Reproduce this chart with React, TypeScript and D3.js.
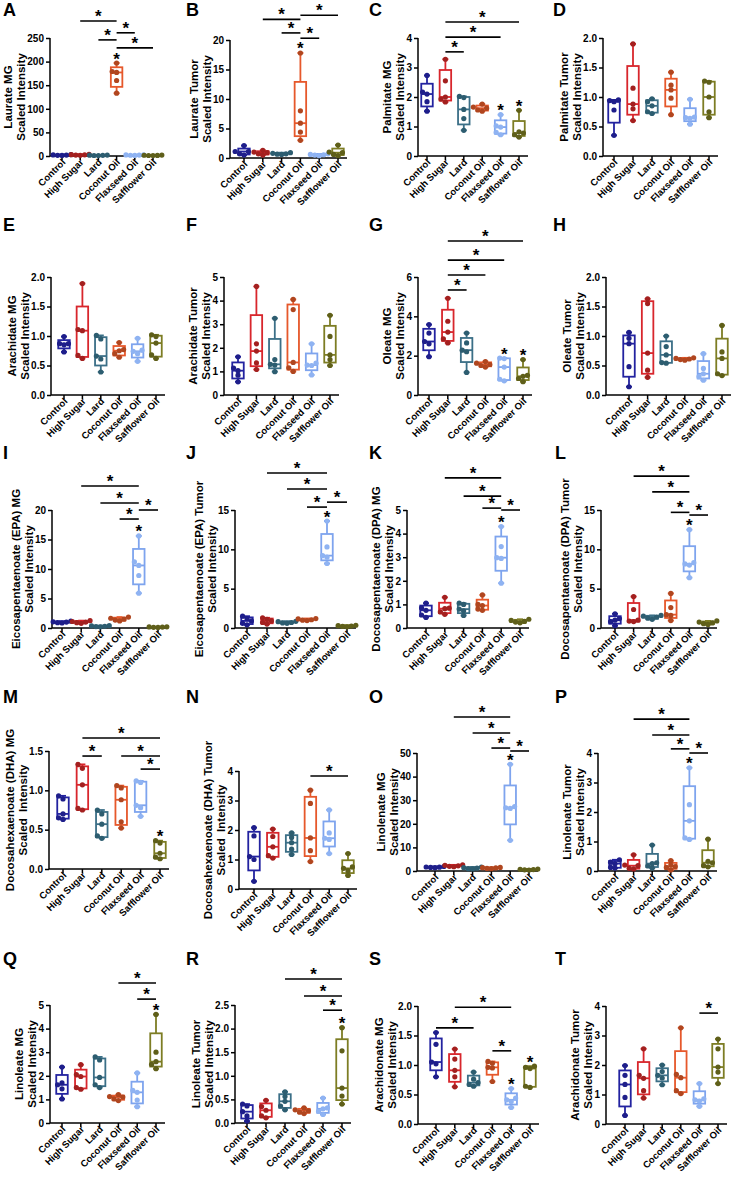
import * as d3 from "d3";
import { useRef, useEffect } from "react";

const FONT = "Liberation Sans, Arial, Helvetica, sans-serif";
const W = 736;
const H = 1177;
const PLOT_H = 118;

const groups = ["Control", "High Sugar", "Lard", "Coconut Oil", "Flaxseed Oil", "Safflower Oil"];
const boxColors = ["#2323a0", "#d8262c", "#3b6f87", "#e6582b", "#7ea4ee", "#7d7d24"];
const dotColors = ["#1e1e8a", "#a3201f", "#2d5d70", "#b0461f", "#8fb3f2", "#5f5f1a"];

// five animals per group
const laurateMG = [
  [1.2, 1.5, 1.9, 2.3, 3.0], [1.5, 2.0, 2.4, 2.8, 3.3], [0.9, 1.1, 1.4, 1.7, 2.0],
  [133, 160, 177, 179, 197], [1.3, 1.6, 1.9, 2.2, 2.6], [0.9, 1.1, 1.3, 1.6, 1.9],
];
const laurateTumor = [
  [0.5, 0.7, 1.1, 1.1, 2.1], [0.5, 0.7, 0.9, 1.0, 1.3], [0.6, 0.65, 0.7, 0.8, 0.9],
  [3.0, 4.4, 5.9, 8.0, 17.8], [0.4, 0.5, 0.55, 0.6, 0.7], [0.4, 0.6, 0.9, 1.0, 2.2],
];
const palmitateMG = [
  [1.52, 1.84, 2.1, 2.17, 2.73], [1.83, 1.93, 2.0, 2.55, 3.28], [0.87, 1.27, 1.58, 1.98, 2.02],
  [1.52, 1.56, 1.62, 1.66, 1.76], [0.72, 0.8, 0.98, 1.02, 1.4], [0.64, 0.72, 0.78, 0.82, 1.55],
];
const palmitateTumor = [
  [0.35, 0.78, 0.92, 0.94, 0.95], [0.6, 0.8, 0.88, 1.15, 1.9], [0.72, 0.75, 0.85, 0.92, 0.97],
  [0.7, 0.98, 1.12, 1.2, 1.42], [0.54, 0.64, 0.65, 0.66, 0.96], [0.65, 0.75, 1.0, 1.25, 1.27],
];
const arachidateMG = [
  [0.73, 0.85, 0.87, 0.87, 0.99], [0.62, 0.67, 1.09, 1.11, 1.89], [0.39, 0.61, 0.66, 0.95, 1.01],
  [0.64, 0.7, 0.75, 0.77, 0.89], [0.57, 0.7, 0.74, 0.76, 0.96], [0.62, 0.68, 0.88, 0.99, 1.02],
];
const arachidateTumor = [
  [0.56, 0.84, 1.03, 1.14, 1.62], [1.08, 1.36, 1.86, 2.17, 4.6], [0.99, 1.27, 1.3, 1.5, 3.25],
  [1.0, 1.15, 1.38, 3.62, 4.05], [0.85, 1.25, 1.27, 1.35, 2.17], [1.25, 1.5, 1.7, 2.48, 3.38],
];
const oleateMG = [
  [1.95, 2.6, 2.72, 3.15, 3.58], [2.65, 2.85, 3.2, 3.75, 4.92], [1.15, 2.2, 2.28, 2.65, 3.15],
  [1.42, 1.5, 1.55, 1.62, 1.7], [0.72, 0.8, 1.42, 1.85, 1.88], [0.68, 0.84, 0.95, 1.0, 1.8],
];
const oleateTumor = [
  [0.14, 0.48, 0.87, 0.96, 1.06], [0.3, 0.42, 0.71, 1.55, 1.63], [0.54, 0.55, 0.68, 0.82, 1.0],
  [0.59, 0.6, 0.61, 0.62, 0.63], [0.25, 0.31, 0.36, 0.45, 0.7], [0.33, 0.36, 0.62, 0.73, 1.18],
];
const epaMG = [
  [0.85, 0.9, 1.0, 1.05, 1.15], [0.8, 0.9, 1.0, 1.1, 1.25], [0.2, 0.25, 0.3, 0.35, 0.4],
  [1.2, 1.35, 1.5, 1.65, 1.85], [5.9, 8.9, 10.6, 11.2, 15.6], [0.1, 0.12, 0.15, 0.18, 0.2],
];
const epaTumor = [
  [0.4, 0.6, 0.9, 1.2, 1.5], [0.5, 0.7, 0.9, 1.1, 1.3], [0.6, 0.65, 0.7, 0.8, 0.85],
  [0.95, 1.0, 1.05, 1.15, 1.2], [8.2, 9.0, 9.2, 10.3, 13.6], [0.15, 0.2, 0.25, 0.3, 0.35],
];
const dpaMG = [
  [0.45, 0.55, 0.75, 0.85, 1.05], [0.58, 0.68, 0.82, 0.84, 1.3], [0.53, 0.73, 0.8, 1.0, 1.05],
  [0.75, 0.8, 0.95, 1.0, 1.4], [1.9, 2.95, 2.98, 3.45, 4.3], [0.22, 0.25, 0.28, 0.32, 0.37],
];
const dpaTumor = [
  [0.3, 0.8, 1.0, 1.2, 1.8], [0.82, 0.88, 1.0, 2.35, 4.0], [1.1, 1.25, 1.4, 1.5, 1.6],
  [0.95, 1.6, 1.7, 2.6, 4.4], [6.4, 8.0, 8.15, 8.3, 12.5], [0.45, 0.55, 0.65, 0.75, 0.9],
];
const dhaMG = [
  [0.63, 0.65, 0.7, 0.89, 0.93], [0.75, 0.77, 1.07, 1.28, 1.33], [0.39, 0.42, 0.57, 0.7, 0.75],
  [0.52, 0.6, 0.88, 1.03, 1.06], [0.67, 0.78, 0.81, 1.1, 1.12], [0.13, 0.15, 0.2, 0.33, 0.36],
];
const dhaTumor = [
  [0.26, 1.0, 1.1, 1.8, 2.08], [1.05, 1.13, 1.43, 1.78, 2.03], [1.17, 1.35, 1.57, 1.75, 1.9],
  [0.93, 1.3, 1.73, 2.9, 3.35], [1.2, 1.68, 1.72, 1.9, 2.68], [0.46, 0.62, 0.7, 0.75, 1.2],
];
const linolenateMG = [
  [1.4, 1.5, 1.6, 1.7, 1.9], [1.8, 2.0, 2.2, 2.4, 2.6], [0.9, 1.0, 1.2, 1.4, 1.7],
  [1.0, 1.1, 1.3, 1.4, 1.5], [13, 26.5, 26.8, 27.3, 45.2], [0.4, 0.5, 0.6, 0.7, 0.8],
];
const linolenateTumor = [
  [0.1, 0.12, 0.25, 0.3, 0.38], [0.07, 0.09, 0.18, 0.2, 0.55], [0.1, 0.17, 0.25, 0.28, 0.88],
  [0.03, 0.12, 0.15, 0.2, 0.35], [1.07, 1.12, 1.7, 2.25, 3.5], [0.14, 0.18, 0.28, 0.33, 1.08],
];
const linoleateMG = [
  [1.02, 1.45, 1.62, 1.7, 2.37], [1.43, 1.5, 1.97, 2.05, 2.47], [1.5, 1.62, 1.93, 2.67, 2.8],
  [0.95, 1.02, 1.1, 1.12, 1.2], [0.69, 0.97, 1.3, 1.38, 2.12], [2.3, 2.48, 2.6, 3.0, 4.6],
];
const linoleateTumor = [
  [0.04, 0.15, 0.24, 0.36, 0.4], [0.11, 0.15, 0.27, 0.35, 0.48], [0.28, 0.36, 0.46, 0.56, 0.66],
  [0.2, 0.23, 0.26, 0.28, 0.32], [0.18, 0.25, 0.3, 0.32, 0.53], [0.4, 0.57, 0.74, 1.53, 2.02],
];
const arachidonateMG = [
  [0.8, 1.02, 1.05, 1.35, 1.55], [0.63, 0.8, 0.91, 1.1, 1.27], [0.64, 0.67, 0.7, 0.76, 0.88],
  [0.72, 0.95, 0.96, 1.03, 1.06], [0.28, 0.38, 0.41, 0.44, 0.6], [0.62, 0.64, 0.94, 0.96, 0.98],
];
const arachidonateTumor = [
  [0.29, 0.9, 1.34, 1.65, 1.98], [0.88, 1.13, 1.55, 1.65, 2.55], [1.33, 1.56, 1.65, 1.78, 2.0],
  [1.03, 1.13, 1.57, 1.68, 3.26], [0.6, 0.78, 0.82, 0.85, 1.37], [1.37, 1.76, 1.93, 2.55, 2.88],
];

// brackets: [group a, group b, height in axis units]; stars: groups with a lone asterisk
const panels = [
  { id: "A", title: ["Laurate MG", "Scaled Intensity"], values: laurateMG, yMax: 250, step: 50,
    brackets: [[1, 3, 286], [2, 3, 246], [3, 4, 261], [3, 5, 229]], stars: [3] },
  { id: "B", title: ["Laurate Tumor", "Scaled Intensity"], values: laurateTumor, yMax: 20, step: 5,
    brackets: [[1, 3, 23.5], [3, 5, 24.2], [2, 3, 21.2], [3, 4, 20.3]], stars: [3] },
  { id: "C", title: ["Palmitate MG", "Scaled Intensity"], values: palmitateMG, yMax: 4, step: 1,
    brackets: [[1, 2, 3.53], [1, 4, 4.03], [1, 5, 4.54]], stars: [4, 5] },
  { id: "D", title: ["Palmitate Tumor", "Scaled Intensity"], values: palmitateTumor, yMax: 2, step: 0.5,
    brackets: [], stars: [] },
  { id: "E", title: ["Arachidate MG", "Scaled Intensity"], values: arachidateMG, yMax: 2, step: 0.5,
    brackets: [], stars: [] },
  { id: "F", title: ["Arachidate Tumor", "Scaled Intensity"], values: arachidateTumor, yMax: 5, step: 1,
    brackets: [], stars: [] },
  { id: "G", title: ["Oleate MG", "Scaled Intensity"], values: oleateMG, yMax: 6, step: 2,
    brackets: [[1, 5, 7.83], [1, 4, 6.86], [1, 3, 6.1], [1, 2, 5.34]], stars: [4, 5] },
  { id: "H", title: ["Oleate Tumor", "Scaled Intensity"], values: oleateTumor, yMax: 2, step: 0.5,
    brackets: [], stars: [] },
  { id: "I", title: ["Eicosapentaenoate (EPA) MG", "Scaled Intensity"], values: epaMG, yMax: 20, step: 5,
    brackets: [[1, 4, 24.07], [2, 4, 21.19], [3, 4, 18.47], [4, 5, 20.0]], stars: [4] },
  { id: "J", title: ["Eicosapentaenoate (EPA) Tumor", "Scaled Intensity"], values: epaTumor, yMax: 15, step: 5,
    brackets: [[1, 4, 19.7], [2, 4, 17.66], [3, 4, 15.37], [4, 5, 16.0]], stars: [4] },
  { id: "K", title: ["Docosapentaenoate (DPA) MG", "Scaled Intensity"], values: dpaMG, yMax: 5, step: 1,
    brackets: [[1, 4, 6.36], [2, 4, 5.59], [3, 4, 5.08], [4, 5, 5.0]], stars: [4] },
  { id: "L", title: ["Docosapentaenoate (DPA) Tumor", "Scaled Intensity"], values: dpaTumor, yMax: 15, step: 5,
    brackets: [[1, 4, 19.3], [2, 4, 17.3], [3, 4, 14.7], [4, 5, 14.36]], stars: [4] },
  { id: "M", title: ["Docosahexaenoate (DHA) MG", "Scaled  Intensity"], values: dhaMG, yMax: 1.5, step: 0.5,
    brackets: [[1, 5, 1.665], [1, 2, 1.436], [3, 5, 1.436], [4, 5, 1.27]], stars: [5] },
  { id: "N", title: ["Docosahexaenoate (DHA) Tumor", "Scaled  Intensity"], values: dhaTumor, yMax: 4, step: 1,
    brackets: [[3, 5, 3.83]], stars: [] },
  { id: "O", title: ["Linolenate MG", "Scaled Intensity"], values: linolenateMG, yMax: 50, step: 10,
    brackets: [[1, 4, 65.25], [2, 4, 58.5], [3, 4, 52.1], [4, 5, 50.85]], stars: [4] },
  { id: "P", title: ["Linolenate Tumor", "Scaled Intensity"], values: linolenateTumor, yMax: 4, step: 1,
    brackets: [[1, 4, 5.15], [2, 4, 4.61], [3, 4, 4.14], [4, 5, 4.0]], stars: [4] },
  { id: "Q", title: ["Linoleate MG", "Scaled Intensity"], values: linoleateMG, yMax: 5, step: 1,
    brackets: [[3, 5, 5.93], [4, 5, 5.25]], stars: [5] },
  { id: "R", title: ["Linoleate Tumor", "Scaled Intensity"], values: linoleateTumor, yMax: 2.5, step: 0.5,
    brackets: [[2, 5, 3.05], [3, 5, 2.69], [4, 5, 2.39]], stars: [5] },
  { id: "S", title: ["Arachidonate MG", "Scaled Intensity"], values: arachidonateMG, yMax: 2, step: 0.5,
    brackets: [[1, 4, 1.98], [0, 2, 1.63], [3, 4, 1.24]], stars: [4, 5] },
  { id: "T", title: ["Arachidonate Tumor", "Scaled Intensity"], values: arachidonateTumor, yMax: 4, step: 1,
    brackets: [[4, 5, 3.76]], stars: [] },
];

// layout per panel: letter x/y, y-axis x, first group x, group spacing, plot top
const layout = [
  [3, 16, 50, 62, 18.2, 38], [186, 16, 230, 244, 18.8, 40], [369, 16, 418, 427, 18.4, 38], [553, 16, 603, 614, 19, 38],
  [3, 231, 51, 64, 18.4, 277], [186, 231, 224, 238, 18.4, 277], [369, 231, 418, 429, 18.8, 277], [553, 231, 606, 629, 18.6, 277],
  [3, 459, 52, 62, 19.2, 510], [186, 459, 235, 247, 20, 510], [369, 459, 407, 426, 18.8, 510], [555, 459, 601, 615, 18.6, 510],
  [3, 703, 49, 63, 19.4, 751], [186, 703, 239, 254, 18.8, 771], [369, 703, 417, 435, 18.8, 753], [555, 703, 598, 615, 18.6, 753],
  [3, 965, 50, 62, 18.8, 1005], [186, 965, 235, 247, 19, 1005], [369, 965, 418, 436, 18.8, 1006], [555, 965, 606, 625, 18.6, 1006],
];

// GraphPad-style quartiles, (n + 1) * p
function quantile(sorted: number[], p: number) {
  const h = (sorted.length + 1) * p - 1;
  const lo = Math.max(0, Math.min(sorted.length - 1, Math.floor(h)));
  const hi = Math.min(sorted.length - 1, lo + 1);
  return sorted[lo] + (h - lo) * (sorted[hi] - sorted[lo]);
}

// nudge overlapping dots sideways
function spread(ys: number[], r: number) {
  const placed: { dx: number; y: number }[] = [];
  const offs = [0, -1, 1, -2, 2];
  return ys.map((y) => {
    for (const k of offs) {
      const dx = k * r * 1.7;
      if (placed.every((p) => Math.hypot(p.dx - dx, p.y - y) >= r * 1.7)) {
        placed.push({ dx, y });
        return dx;
      }
    }
    return 0;
  });
}

function drawPanel(svg: any, p: any, L: number[]) {
  const [lx, ly, axisX, first, step, top] = L;
  const y0 = top + PLOT_H;
  const g = svg.append("g").attr("font-family", FONT);

  const x = d3.scalePoint<string>().domain(groups).range([first, first + 5 * step]);
  const y = d3.scaleLinear().domain([0, p.yMax]).range([y0, top]);

  g.append("text").attr("x", lx).attr("y", ly).attr("font-size", 18).attr("font-weight", 700).text(p.id);

  const ticks = d3.range(0, p.yMax + p.step / 2, p.step);
  const yAxis = g.append("g")
    .attr("transform", `translate(${axisX},0)`)
    .call(d3.axisLeft(y).tickValues(ticks).tickSize(4).tickSizeOuter(0).tickPadding(2)
      .tickFormat(p.step < 1 ? d3.format(".1f") : d3.format("d")));
  yAxis.attr("font-family", FONT).attr("font-size", 10).attr("font-weight", 700);
  yAxis.select(".domain").attr("stroke-width", 1.5).attr("d", `M0,${y0}V${top}`);
  yAxis.selectAll(".tick line").attr("stroke-width", 1.5);
  yAxis.selectAll(".tick text").attr("fill", "#000");

  // x axis
  const xEnd = first + 5 * step + 9;
  g.append("line").attr("x1", axisX).attr("x2", xEnd).attr("y1", y0).attr("y2", y0)
    .attr("stroke", "#000").attr("stroke-width", 1.5);
  groups.forEach((name) => {
    const cx = x(name) as number;
    g.append("line").attr("x1", cx).attr("x2", cx).attr("y1", y0).attr("y2", y0 + 4)
      .attr("stroke", "#000").attr("stroke-width", 1.5);
    g.append("text")
      .attr("transform", `translate(${cx + 4},${y0 + 7}) rotate(-45)`)
      .attr("text-anchor", "end").attr("font-size", 9.5).attr("font-weight", 700).text(name);
  });

  // axis title, placed left of the tick labels
  const bb = (yAxis.node() as SVGGElement).getBBox();
  const left = axisX + bb.x - 2;
  const cy = top + PLOT_H / 2;
  p.title.forEach((t: string, i: number) => {
    const tx = left - (p.title.length - 1 - i) * 13;
    g.append("text")
      .attr("transform", `translate(${tx},${cy}) rotate(-90)`)
      .attr("text-anchor", "middle").attr("font-size", 11.5).attr("font-weight", 700)
      .attr("xml:space", "preserve").style("white-space", "pre").text(t);
  });

  const bw = 11.5;
  const r = 2.6;
  p.values.forEach((vals: number[], gi: number) => {
    const s = [...vals].sort((a, b) => a - b);
    const q1 = quantile(s, 0.25), med = quantile(s, 0.5), q3 = quantile(s, 0.75);
    const mn = s[0], mx = s[s.length - 1];
    const cx = x(groups[gi]) as number;
    const col = boxColors[gi];
    const bg = g.append("g").attr("stroke", col).attr("stroke-width", 1.8).attr("fill", "none");
    bg.append("line").attr("x1", cx).attr("x2", cx).attr("y1", y(mx)).attr("y2", y(q3));
    bg.append("line").attr("x1", cx).attr("x2", cx).attr("y1", y(q1)).attr("y2", y(mn));
    [mx, mn].forEach((v) =>
      bg.append("line").attr("x1", cx - 3).attr("x2", cx + 3).attr("y1", y(v)).attr("y2", y(v)));
    bg.append("rect").attr("x", cx - bw / 2).attr("y", y(q3)).attr("width", bw)
      .attr("height", Math.max(0.5, y(q1) - y(q3))).attr("fill", "#fff");
    bg.append("line").attr("x1", cx - bw / 2).attr("x2", cx + bw / 2).attr("y1", y(med)).attr("y2", y(med));

    const ys = s.map((v) => y(v));
    const dxs = spread(ys, r);
    g.append("g").selectAll("circle").data(ys).join("circle")
      .attr("cx", (_: number, i: number) => cx + dxs[i]).attr("cy", (d: number) => d)
      .attr("r", r).attr("fill", dotColors[gi]);
  });

  const starSize = 17;
  p.stars.forEach((gi: number) => {
    const mx = d3.max(p.values[gi] as number[]) as number;
    g.append("text").attr("x", x(groups[gi]) as number).attr("y", y(mx) + 1.5)
      .attr("text-anchor", "middle").attr("font-size", starSize).attr("font-weight", 700).text("*");
  });
  p.brackets.forEach(([a, b, v]: number[]) => {
    const xa = x(groups[a]) as number, xb = x(groups[b]) as number;
    g.append("line").attr("x1", xa).attr("x2", xb).attr("y1", y(v)).attr("y2", y(v))
      .attr("stroke", "#000").attr("stroke-width", 1.6);
    g.append("text").attr("x", (xa + xb) / 2).attr("y", y(v) + 1)
      .attr("text-anchor", "middle").attr("font-size", starSize).attr("font-weight", 700).text("*");
  });
}

export default function App() {
  const svgRef = useRef<SVGSVGElement>(null);

  useEffect(() => {
    const svg = d3.select(svgRef.current);
    svg.selectAll("*").remove();
    panels.forEach((p, i) => drawPanel(svg, p, layout[i]));
  }, []);

  return (
    <svg
      ref={svgRef}
      width={W}
      height={H}
      style={{ position: "absolute", left: 0, top: 0, background: "#fff" }}
    />
  );
}
